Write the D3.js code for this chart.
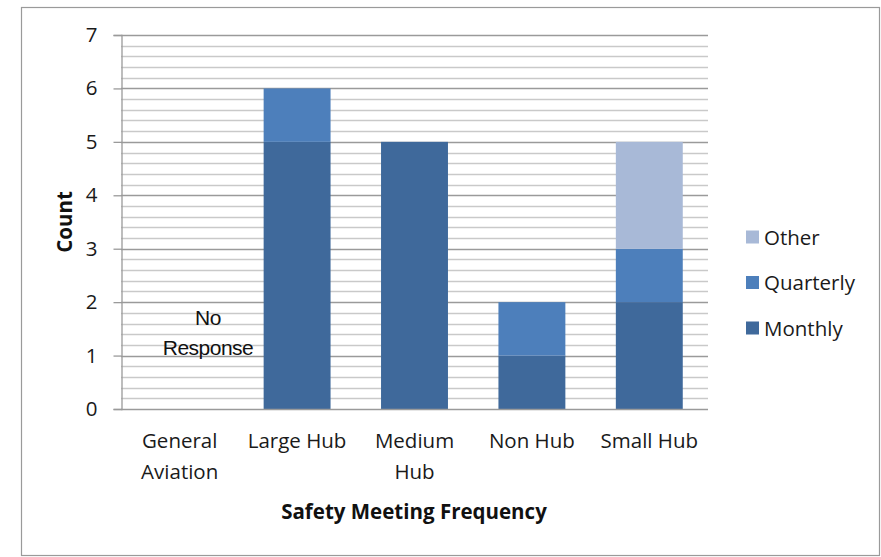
<!DOCTYPE html>
<html><head><meta charset="utf-8">
<script src="https://cdn.jsdelivr.net/npm/d3@7"></script>
<style>
html,body{margin:0;padding:0;background:#fff;}
svg{display:block;}
</style></head>
<body>
<svg id="chart" width="881" height="557"></svg>
<script>
const categories = ["General Aviation", "Large Hub", "Medium Hub", "Non Hub", "Small Hub"];
const categoryLines = [["General", "Aviation"], ["Large Hub"], ["Medium", "Hub"], ["Non Hub"], ["Small Hub"]];
const seriesNames = ["Monthly", "Quarterly", "Other"];
const monthly   = [0, 5, 5, 1, 2];
const quarterly = [0, 1, 0, 1, 1];
const other     = [0, 0, 0, 0, 2];
const yTicks = [0, 1, 2, 3, 4, 5, 6, 7];
const colors = ["#3F699B", "#4D7FBB", "#A8B9D7"];

(function () {
const svg = d3.select("#chart");
const font = "'Open Sans', Lato, sans-serif";
const fs = 20.5;

// outer frame
svg.append("rect").attr("x", 21.5).attr("y", 7.5).attr("width", 858).attr("height", 548)
  .attr("fill", "#fff").attr("stroke", "#9a9a9a").attr("stroke-width", 1.2);

const pL = 121, pR = 708, pT = 35, pB = 409;
const x = d3.scaleBand().domain(categories).range([pL, pR]).paddingInner(0.43).paddingOuter(0.215);
const y = d3.scaleLinear().domain([0, 7]).range([pB, pT]);

// minor gridlines
const minor = d3.range(0, 7.001, 0.2).filter(v => Math.abs(v - Math.round(v)) > 1e-6);
svg.append("g").selectAll("line").data(minor).join("line")
  .attr("x1", pL).attr("x2", pR)
  .attr("y1", d => Math.round(y(d)) + 0.5).attr("y2", d => Math.round(y(d)) + 0.5)
  .attr("stroke", "#c9c9c9").attr("stroke-width", 1.3);
// major gridlines
svg.append("g").selectAll("line").data(yTicks.slice(1)).join("line")
  .attr("x1", pL).attr("x2", pR)
  .attr("y1", d => Math.round(y(d)) + 0.5).attr("y2", d => Math.round(y(d)) + 0.5)
  .attr("stroke", "#9a9a9a").attr("stroke-width", 1.3);

// stacked bars
const table = categories.map((c, i) => ({cat: c, Monthly: monthly[i], Quarterly: quarterly[i], Other: other[i]}));
const stack = d3.stack().keys(seriesNames)(table);
svg.append("g").selectAll("g").data(stack).join("g")
  .attr("fill", (d, i) => colors[i])
  .selectAll("rect").data(d => d).join("rect")
  .attr("x", d => x(d.data.cat))
  .attr("width", x.bandwidth())
  .attr("y", d => y(d[1]))
  .attr("height", d => y(d[0]) - y(d[1]));

// y axis
const yAxis = d3.axisLeft(y).tickValues(yTicks).tickSize(8).tickPadding(16).tickFormat(d3.format("d"));
const ga = svg.append("g").attr("transform", `translate(${pL + 0.5},0)`).call(yAxis);
ga.select(".domain").attr("stroke", "#9a9a9a").attr("stroke-width", 1.3);
ga.selectAll(".tick line").attr("stroke", "#9a9a9a").attr("stroke-width", 1.3);
ga.selectAll(".tick text").attr("font-family", font).attr("font-size", fs).attr("fill", "#1a1a1a");

// x baseline
svg.append("line").attr("x1", pL).attr("x2", pR).attr("y1", pB + 0.5).attr("y2", pB + 0.5)
  .attr("stroke", "#9a9a9a").attr("stroke-width", 1.3);

// x labels
const xl = svg.append("g");
categories.forEach((c, i) => {
  const t = xl.append("text").attr("x", x(c) + x.bandwidth() / 2).attr("y", 448)
    .attr("text-anchor", "middle").attr("font-family", font).attr("font-size", fs).attr("fill", "#1a1a1a");
  categoryLines[i].forEach((ln, j) => t.append("tspan").attr("x", x(c) + x.bandwidth() / 2).attr("dy", j ? 31 : 0).text(ln));
});

// axis titles
svg.append("text").attr("x", 414).attr("y", 519).attr("text-anchor", "middle")
  .attr("font-family", font).attr("font-weight", "bold").attr("font-size", fs).attr("fill", "#111")
  .text("Safety Meeting Frequency");
svg.append("text").attr("transform", "translate(72,222) rotate(-90)").attr("text-anchor", "middle")
  .attr("font-family", font).attr("font-weight", "bold").attr("font-size", fs).attr("fill", "#111")
  .text("Count");

// No Response annotation
const nr = svg.append("text").attr("text-anchor", "middle")
  .attr("font-family", "'Liberation Sans Narrow', 'Arial Narrow', 'Liberation Sans', sans-serif")
  .attr("font-size", 21).attr("fill", "#111").attr("letter-spacing", -0.5);
nr.append("tspan").attr("x", 208).attr("y", 325).text("No");
nr.append("tspan").attr("x", 208).attr("y", 355).text("Response");

// legend
const legendOrder = ["Other", "Quarterly", "Monthly"];
const lg = svg.append("g");
legendOrder.forEach((s, i) => {
  const yy = 237 + i * 45.5;
  lg.append("rect").attr("x", 746).attr("y", yy - 6.5).attr("width", 13).attr("height", 13)
    .attr("fill", colors[seriesNames.indexOf(s)]);
  lg.append("text").attr("x", 764).attr("y", yy + 7.5).attr("font-family", font)
    .attr("font-size", fs).attr("fill", "#1a1a1a").text(s);
});
})();
</script>
</body></html>
